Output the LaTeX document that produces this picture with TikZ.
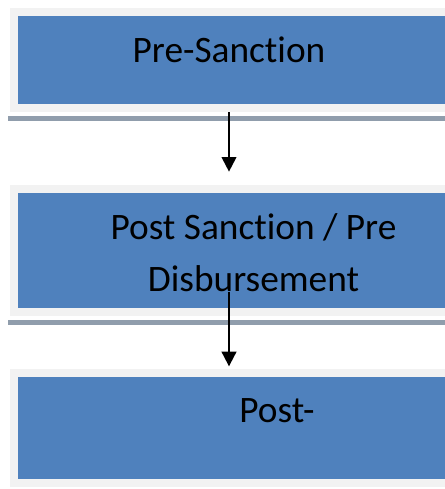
\documentclass[tikz,border=0pt]{standalone}
\usepackage{fontspec}
\setmainfont[Ligatures={NoCommon}]{Carlito}
\usetikzlibrary{arrows.meta}
\definecolor{stageblue}{RGB}{79,129,189}
\definecolor{framegray}{RGB}{242,242,242}
\definecolor{shadowgray}{RGB}{144,157,172}
\tikzstyle{stage}=[rectangle,fill=stageblue,draw=framegray,line width=6pt,inner sep=0pt]
\tikzstyle{stage text}=[anchor=base,inner sep=0pt,align=center,font=\fontsize{28}{39}\selectfont]
\tikzstyle{stage shadow}=[fill=shadowgray]
\tikzstyle{flow}=[draw,line width=1.5pt,-{Triangle[width=11pt,length=11pt]}]

\begin{document}
\begin{tikzpicture}[x=0.75pt,y=-0.75pt]
  \useasboundingbox (0,0) rectangle (444,489);
  % First we draw the three stages (they run off the right edge)
  \foreach \pos/\w/\h/\name in {{(240,60)/339pt/72pt/pre}, {(253,250.5)/358.5pt/92.25pt/sanc}, {(277,428)/394.5pt/82.5pt/post}}
    \node[stage,minimum width=\w,minimum height=\h] (\name) at \pos {};

  % Thin shadow under the first two
  \foreach \name in {pre, sanc}
    \fill[stage shadow] ([xshift=-1.5pt,yshift=-3pt]\name.south west) rectangle ([yshift=-6.75pt]\name.south east);

  % Then the texts
  \node[stage text] (pretext) at (229,62) {Pre-Sanction};
  \node[stage text] (sanctext) at (253.5,291) {Post Sanction / Pre\\Disbursement};
  \node[stage text] (posttext) at (277,422) {Post-};

  % Connect the stages
  \path[flow] (pretext |- pre.south) -- ([yshift=10pt]pretext |- sanc.north);
  \path[flow] (pretext |- sanctext.south) -- ([yshift=2pt]pretext |- post.north);
\end{tikzpicture}
\end{document}
